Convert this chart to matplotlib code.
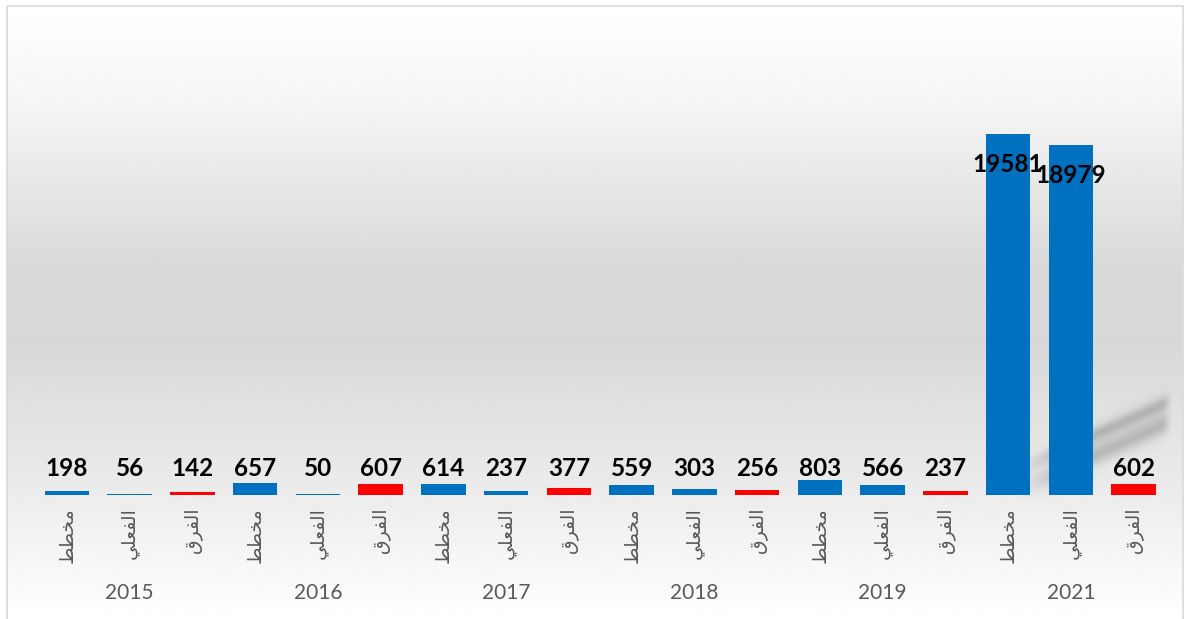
import numpy as np
import matplotlib
matplotlib.use('Agg')
import matplotlib.pyplot as plt
from matplotlib.patches import Rectangle

# Planned vs actual vs difference, by year
years = ['2015', '2016', '2017', '2018', '2019', '2021']
planned = [198, 657, 614, 559, 803, 19581]
actual = [56, 50, 237, 303, 566, 18979]
diff = [142, 607, 377, 256, 237, 602]

# Arabic category names (مخطط, الفعلي, الفرق) written in shaped
# presentation forms, visual order, since matplotlib does no shaping.
cat_planned = '\uFEC2\uFEC4\uFEA8\uFEE3'
cat_actual = '\uFEF2\uFEE0\uFECC\uFED4\uFEDF\uFE8D'
cat_diff = '\uFED5\uFEAE\uFED4\uFEDF\uFE8D'

blue = '#0070C0'
red = '#FF0000'
grey_text = '#595959'

values, labels, colors = [], [], []
for p, a, d in zip(planned, actual, diff):
    values += [p, a, d]
    labels += [cat_planned, cat_actual, cat_diff]
    colors += [blue, blue, red]
x = np.arange(len(values))

W, H = 1189, 619
fig = plt.figure(figsize=(W / 100, H / 100), dpi=100)

# ---------------------------------------------------------------
# Background: vertical grey gradient, border and soft shadow.
bg = fig.add_axes([0, 0, 1, 1])
bg.set_xlim(0, W)
bg.set_ylim(H, 0)
bg.axis('off')

yy = np.linspace(0, 1, 400)
stops = [0.0, 0.15, 0.42, 0.55, 0.80, 0.97, 1.0]
levels = [255, 246, 218, 216, 236, 252, 255]
grad = np.interp(yy, stops, levels) / 255.0
grad_img = np.repeat(grad[:, None], 2, axis=1)
bg.imshow(grad_img, cmap='gray', vmin=0, vmax=1, aspect='auto',
          extent=[7, 1183, 618, 5], interpolation='bilinear')
bg.add_patch(Rectangle((6.5, 5.5), 1176, 620, fill=False,
                       edgecolor='#d9d9d9', linewidth=1.2))

# soft diagonal shadow behind the 2021 bars
sx0, sx1, sy0, sy1 = 1010, 1178, 385, 500
gx, gy = np.meshgrid(np.arange(sx0, sx1), np.arange(sy0, sy1))
slope = -0.45
alpha = np.zeros(gx.shape)
for cy, amp, sig in [(418, 0.28, 7.0), (440, 0.24, 9.0), (430, 0.15, 18.0)]:
    line_y = cy + slope * (gx - 1130)
    alpha += amp * np.exp(-((gy - line_y) / sig) ** 2)
fade = np.clip((gx - 1015) / 50.0, 0, 1) * np.clip((1172 - gx) / 10.0, 0, 1)
alpha = np.clip(alpha * fade, 0, 1)
shadow = np.zeros(gx.shape + (4,))
shadow[..., :3] = 0.40
shadow[..., 3] = alpha
bg.imshow(shadow, extent=[sx0, sx1, sy1, sy0], aspect='auto',
          interpolation='bilinear', zorder=2)

# ---------------------------------------------------------------
# Bar chart
left_px, right_px = 35.6, 1165.0
base_px, top_px = 495.0, 40.0
ax = fig.add_axes([left_px / W, (H - base_px) / H,
                   (right_px - left_px) / W, (base_px - top_px) / H])
ax.patch.set_alpha(0)
ymax = max(values) * (base_px - top_px) / (base_px - 134.0)
ax.set_ylim(0, ymax)
ax.set_xlim(-0.5, len(values) - 0.5)

ax.bar(x, values, width=0.71, color=colors, zorder=3)

# value labels: fixed height above small bars, inside top of tall bars
px_unit = ymax / (base_px - top_px)
for xi, v in zip(x, values):
    if v > 5000:
        ypos = v - 30 * px_unit
    else:
        ypos = 27 * px_unit
    ax.text(xi, ypos, str(v), ha='center', va='center', fontsize=17.5,
            fontweight='bold', family='Lato', color='black', zorder=4)

ax.set_xticks(x)
ax.set_xticklabels(labels, rotation=90, fontsize=13.5, color=grey_text,
                   family='DejaVu Sans', va='top', ha='center')
ax.tick_params(axis='x', length=0, pad=9)
ax.set_yticks([])
for s in ax.spines.values():
    s.set_visible(False)

# year labels under each group of three
for i, yr in enumerate(years):
    ax.annotate(yr, xy=(3 * i + 1, 0), xycoords=('data', 'axes fraction'),
                xytext=(0, -98 * 0.72), textcoords='offset points',
                ha='center', va='center', fontsize=15, family='Lato',
                color=grey_text)

fig.savefig('out.png', dpi=100)
